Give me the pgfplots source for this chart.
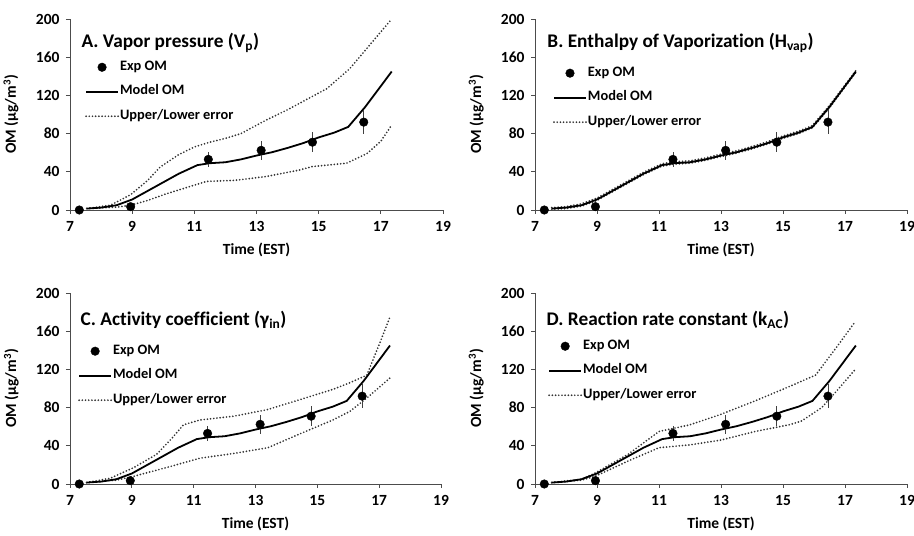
\documentclass[border=0pt]{standalone}
\usepackage{fontspec}
\setmainfont{Carlito}[Ligatures=NoCommon]
\usepackage{pgfplots}
\pgfplotsset{compat=1.18}

% measured data (Time EST, OM ug/m3)
\pgfplotstableread{
t om err
7.3 0 0
8.95 3.5 0
11.45 53 5
13.15 62.5 7
14.8 71 7.5
16.45 92 9.5
}\expdata
\pgfplotstableread{
t om
7.54 1.5
8.0 2.5
8.5 5
9.0 11
9.5 20
10.0 29
10.5 38
11.1 47
11.5 49
12.0 50
12.5 53
13.0 57
13.5 60.5
14.0 65
14.5 70
15.0 76
15.5 81
15.95 87
16.5 108
17.35 145
}\model

\pgfplotsset{
  omaxis/.style={
    width=373pt, height=191pt, scale only axis,
    xmin=7, xmax=19, ymin=0, ymax=200,
    xtick={7,9,...,19}, ytick={0,40,...,200},
    axis lines*=left, axis line style={black!70, line width=0.8pt},
    tick align=outside, major tick length=4pt,
    tick style={black!70, line width=0.8pt},
    ticklabel style={font=\fontsize{15.5}{15}\selectfont\bfseries},
    xticklabel style={yshift=-4pt},
    yticklabel style={xshift=-3pt},
    /pgf/number format/assume math mode=true,
    xlabel={Time (EST)}, ylabel={OM (µg/m\textsuperscript{3})},
    label style={font=\fontsize{15.5}{16}\selectfont\bfseries},
    xlabel style={at={(axis description cs:0.5,-0.21)}, anchor=center},
    ylabel style={at={(axis description cs:-0.158,0.5)}, anchor=center},
    legend style={draw=none, fill=none, inner sep=0pt, anchor=north west,
      font=\fontsize{14.4}{14}\selectfont\bfseries,
      nodes={inner sep=1pt, text height=9pt, text depth=3pt},
      row sep=10.5pt,
      /tikz/every even column/.append style={column sep=0pt}},
    legend cell align=left,
    reverse legend,
    legend image code/.code={\draw[mark repeat=2,mark phase=2,##1]
      plot coordinates {(0pt,0pt) (16pt,0pt) (32pt,0pt)};},
    clip=false,
  },
  errline/.style={black!80, line width=1.9pt, line cap=round,
    dash pattern=on 0pt off 3.2pt},
  modline/.style={black, line width=1.8pt},
  expmarks/.style={only marks, mark=*, mark size=4.3pt, black,
    error bars/.cd, y dir=both, y explicit,
    error bar style={black!75, line width=0.8pt},
    error mark=-,
    error mark options={black!75, mark size=2.6pt, line width=0.8pt}},
}

\begin{document}
\begin{tikzpicture}
\useasboundingbox (0,0) rectangle (914pt,536pt);

% A
\begin{axis}[omaxis, at={(70pt,326pt)}, anchor=south west,
  legend style={at={(axis description cs:0.040,0.785)}}]
\addplot[errline] coordinates {(7.54,1.5) (8.3,5) (8.95,16) (9.5,31) (9.9,45) (10.5,58) (11.0,66) (11.5,71) (12.0,75) (12.5,80) (13.3,94) (14.0,105) (14.8,119) (15.26,127) (16.0,148) (16.7,175) (17.35,200)};
\addlegendentry{Upper/Lower error}
\addplot[errline, forget plot] coordinates {(7.54,1.5) (8.5,3) (8.95,5) (9.5,10) (10.1,17) (10.6,22) (11.0,26) (11.4,30) (12.3,31) (13.3,35) (14.4,42) (14.8,45.5) (15.9,49) (16.55,59) (17.0,72) (17.35,89)};
\addplot[modline] table[x=t, y=om] {\model};
\addlegendentry{Model OM}
\addplot[expmarks] table[x=t, y=om, y error=err] {\expdata};
\addlegendentry{Exp OM}
\node[anchor=base west, font=\fontsize{19.3}{19}\selectfont\bfseries]
  at (axis description cs:0.0215,0.853) {A. Vapor pressure (V\textsubscript{p})};
\end{axis}

% B
\begin{axis}[omaxis, at={(535pt,326pt)}, anchor=south west, width=372pt,
  legend style={at={(axis description cs:0.048,0.754)}}]
\addplot[errline] coordinates {(7.54,2.5) (8.0,3.5) (8.5,6.5) (9.0,12.5) (9.5,21.5) (10.0,30.5) (10.5,39.5) (11.1,48.5) (11.5,50.5) (12.0,51.5) (12.5,54.5) (13.0,58.5) (13.5,62) (14.0,66.5) (14.5,71.5) (15.0,77.5) (15.5,82.5) (15.95,88.5) (16.5,109.5) (17.35,146)};
\addlegendentry{Upper/Lower error}
\addplot[errline, forget plot] coordinates {(7.54,0.8) (8.0,1.5) (8.5,4) (9.0,10) (9.5,19) (10.0,28) (10.5,37) (11.1,46) (11.5,48) (12.0,49) (12.5,52) (13.0,56) (13.5,59.5) (14.0,64) (14.5,69) (15.0,75) (15.5,80) (15.95,86) (16.5,107) (17.35,144)};
\addplot[modline] table[x=t, y=om] {\model};
\addlegendentry{Model OM}
\addplot[expmarks] table[x=t, y=om, y error=err] {\expdata};
\addlegendentry{Exp OM}
\node[anchor=base west, font=\fontsize{19.3}{19}\selectfont\bfseries]
  at (axis description cs:0.024,0.853) {B. Enthalpy of Vaporization (H\textsubscript{vap})};
\end{axis}

% C
\begin{axis}[omaxis, at={(70pt,52pt)}, anchor=south west, width=371pt,
  legend style={at={(axis description cs:0.0215,0.733)}}]
\addplot[errline] coordinates {(7.54,1.5) (8.3,6) (9.05,17) (9.8,31) (10.3,48) (10.67,62) (11.2,67) (12.3,71) (13.4,78) (14.4,88) (15.5,99) (16.05,106) (16.6,114) (17.0,146) (17.35,175)};
\addlegendentry{Upper/Lower error}
\addplot[errline, forget plot] coordinates {(7.54,1.5) (8.5,4) (9.05,8) (10.1,17) (11.2,27) (12.3,32) (13.4,38) (14.4,52) (15.5,67) (16.05,76) (16.6,90) (17.35,111)};
\addplot[modline] table[x=t, y=om] {\model};
\addlegendentry{Model OM}
\addplot[expmarks] table[x=t, y=om, y error=err] {\expdata};
\addlegendentry{Exp OM}
\node[anchor=base west, font=\fontsize{19.3}{19}\selectfont\bfseries]
  at (axis description cs:0.019,0.832) {C. Activity coefficient (γ\textsubscript{in})};
\end{axis}

% D
\begin{axis}[omaxis, at={(535pt,52pt)}, anchor=south west, width=372pt,
  legend style={at={(axis description cs:0.035,0.759)}}]
\addplot[errline] coordinates {(7.54,1.5) (8.5,5) (8.94,11.5) (10.0,31) (11.0,55) (12.0,62) (13.0,73) (14.1,87) (15.2,102) (16.05,114) (16.7,142) (17.33,170)};
\addlegendentry{Upper/Lower error}
\addplot[errline, forget plot] coordinates {(7.54,1.5) (8.5,4) (8.94,8) (10.0,24) (11.0,38) (12.0,41) (13.0,46) (14.1,55) (15.2,62) (15.6,66) (16.25,80) (16.8,100) (17.33,120)};
\addplot[modline] table[x=t, y=om] {\model};
\addlegendentry{Model OM}
\addplot[expmarks] table[x=t, y=om, y error=err] {\expdata};
\addlegendentry{Exp OM}
\node[anchor=base west, font=\fontsize{19.3}{19}\selectfont\bfseries]
  at (axis description cs:0.022,0.832) {D. Reaction rate constant (k\textsubscript{AC})};
\end{axis}
\end{tikzpicture}
\end{document}
